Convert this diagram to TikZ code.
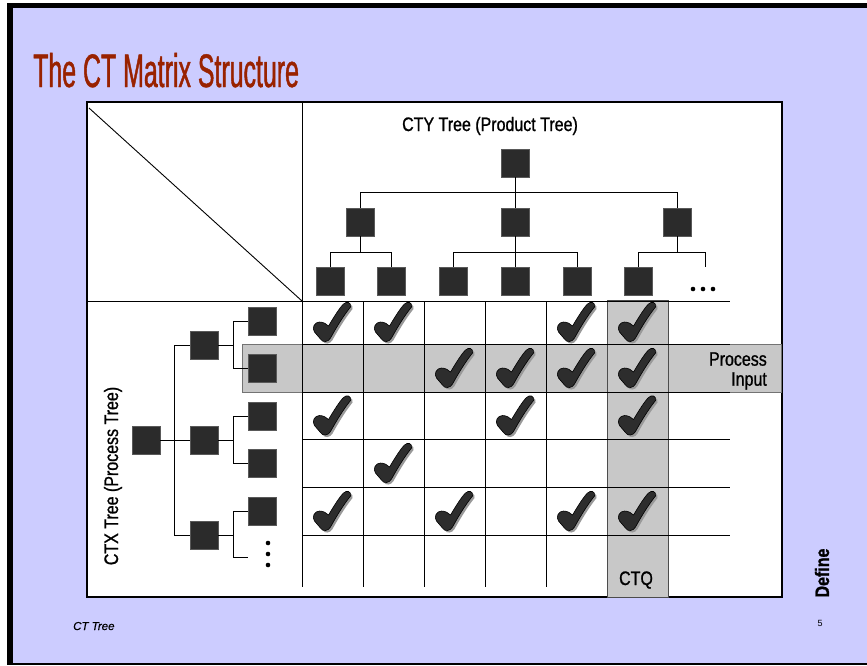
\documentclass[tikz,border=0pt]{standalone}
\usepackage{fontspec}
\setmainfont{Liberation Sans}
\newfontfamily\titlefont[FakeStretch=0.53,FakeBold=0.9]{Liberation Sans}
\newfontfamily\labelfont[FakeStretch=0.82,FakeBold=1.0]{Liberation Sans}
\newfontfamily\footfont[FakeBold=0.5]{Liberation Sans}
\definecolor{lav}{RGB}{204,204,255}
\definecolor{titlered}{RGB}{153,34,0}
\definecolor{hl}{RGB}{200,200,200}
\definecolor{sqfill}{RGB}{43,43,43}
\definecolor{chkfill}{RGB}{45,45,45}

\begin{document}
\begin{tikzpicture}[x=1pt,y=-1pt,
  box/.style={draw=black!65, fill=sqfill, line width=0.8pt, minimum size=28pt, inner sep=0pt},
  conn/.style={black, line width=1pt},
  gridline/.style={black, line width=0.9pt},
  dot/.style={circle, fill=black, inner sep=0pt, minimum size=4.6pt},
  lbl/.style={inner sep=0pt, font=\labelfont\fontsize{19.5}{20}\selectfont},
  chk/.pic={
    \fill[black!40, shift={(2,2)}]
      (-4,4) .. controls (2,-6) and (7,-14) .. (11,-18)
      .. controls (14,-21) and (19,-20) .. (18,-15)
      .. controls (10,-5) and (3,7) .. (-2,16)
      .. controls (-4,20) and (-10,21) .. (-12,17)
      .. controls (-14,14) and (-16,13) .. (-18,10)
      .. controls (-21,6) and (-18,0) .. (-13,0)
      .. controls (-9,0) and (-6,2) .. (-4,4) -- cycle;
    \filldraw[fill=chkfill, draw=black, line width=0.6pt]
      (-4,4) .. controls (2,-6) and (7,-14) .. (11,-18)
      .. controls (14,-21) and (19,-20) .. (18,-15)
      .. controls (10,-5) and (3,7) .. (-2,16)
      .. controls (-4,20) and (-10,21) .. (-12,17)
      .. controls (-14,14) and (-16,13) .. (-18,10)
      .. controls (-21,6) and (-18,0) .. (-13,0)
      .. controls (-9,0) and (-6,2) .. (-4,4) -- cycle;
  }]
\useasboundingbox (0,0) rectangle (867,665);

% slide background and frame
\fill[white] (0,0) rectangle (867,665);
\fill[black] (7,3) rectangle (867,665);
\fill[lav] (13,8) rectangle (867,663);

% title
\node[anchor=base west, inner sep=0pt, text=titlered,
      font=\titlefont\fontsize{47}{50}\selectfont] (title) at (33,87) {The CT Matrix Structure};

% matrix panel
\draw[fill=white, line width=1.1pt] (87,102) rectangle (782,597);

% highlighted process input row and CTQ column
\filldraw[fill=hl, draw=black!55, line width=0.9pt] (242,344) rectangle (781,392);
\filldraw[fill=hl, draw=black!70, line width=0.9pt] (607,300) rectangle (668,597);

% corner diagonal and grid
\draw[gridline] (89,108) -- (302,301);
\draw[gridline] (87,301) -- (730,301);
\draw[gridline] (302,102) -- (302,587);
\foreach \x in {363,424,485,546} \draw[gridline] (\x,301) -- (\x,587);
\foreach \y in {344,392,439,487,535} \draw[gridline] (302,\y) -- (730,\y);

% CTY tree (product tree)
\node[lbl, anchor=base] (ctyl) at (490,131) {CTY Tree (Product Tree)};
\node[box] (t0) at (515,163) {};
\node[box] (t1a) at (360,222) {};
\node[box] (t1b) at (515,222) {};
\node[box] (t1c) at (677,222) {};
\node[box] (t2a) at (330,281) {};
\node[box] (t2b) at (391,281) {};
\node[box] (t2c) at (453,281) {};
\node[box] (t2d) at (515,281) {};
\node[box] (t2e) at (577,281) {};
\node[box] (t2f) at (638,281) {};
\node[dot] (td1) at (693,289) {};
\node[dot] (td2) at (703,289) {};
\node[dot] (td3) at (713,289) {};
\coordinate (tbar) at (515,192);
\coordinate (lbar) at (0,252);
\coordinate (tstub) at (705,267);
\draw[conn] (t0.south) -- (t1b.north);
\draw[conn] (t1a.north) -- (t1a.north |- tbar) -- (t1c.north |- tbar) -- (t1c.north);
\draw[conn] (t1a.south) -- (t1a.south |- lbar);
\draw[conn] (t2a.north) -- (t2a.north |- lbar) -- (t2b.north |- lbar) -- (t2b.north);
\draw[conn] (t1b.south) -- (t2d.north);
\draw[conn] (t2c.north) -- (t2c.north |- lbar) -- (t2e.north |- lbar) -- (t2e.north);
\draw[conn] (t1c.south) -- (t1c.south |- lbar);
\draw[conn] (t2f.north) -- (t2f.north |- lbar) -- (tstub |- lbar) -- (tstub);

% CTX tree (process tree)
\node[lbl, rotate=90, anchor=base] (ctxl) at (118,476) {CTX Tree (Process Tree)};
\node[box] (c0) at (146,440) {};
\node[box] (c1a) at (204,345) {};
\node[box] (c1b) at (204,440) {};
\node[box] (c1c) at (204,535) {};
\node[box] (c2a) at (262,321) {};
\node[box] (c2b) at (262,368) {};
\node[box] (c2c) at (262,416) {};
\node[box] (c2d) at (262,463) {};
\node[box] (c2e) at (262,511) {};
\node[dot] (cd1) at (268,543) {};
\node[dot] (cd2) at (268,554) {};
\node[dot] (cd3) at (268,565) {};
\coordinate (vbar) at (174,0);
\coordinate (wbar) at (233,0);
\coordinate (cstub) at (248,557);
\draw[conn] (c0.east) -- (c1b.west);
\draw[conn] (c1a.west) -- (c1a.west -| vbar) -- (c1c.west -| vbar) -- (c1c.west);
\draw[conn] (c1a.east) -- (c1a.east -| wbar);
\draw[conn] (c2a.west) -- (c2a.west -| wbar) -- (c2b.west -| wbar) -- (c2b.west);
\draw[conn] (c1b.east) -- (c1b.east -| wbar);
\draw[conn] (c2c.west) -- (c2c.west -| wbar) -- (c2d.west -| wbar) -- (c2d.west);
\draw[conn] (c1c.east) -- (c1c.east -| wbar);
\draw[conn] (c2e.west) -- (c2e.west -| wbar) -- (cstub -| wbar) -- (cstub);

% check marks
\foreach \x/\y in {332.5/322, 393.5/322, 576.5/322, 637.5/322,
                   454.5/368, 515.5/368, 576.5/368, 637.5/368,
                   332.5/415.5, 515.5/415.5, 637.5/415.5,
                   393.5/463,
                   332.5/511, 454.5/511, 576.5/511, 637.5/511}
  \pic at (\x,\y) {chk};

% labels
\node[lbl, align=right, anchor=east] (pin) at (767,371) {Process\\Input};
\node[lbl, anchor=base] (ctq) at (636,585) {CTQ};
\node[inner sep=0pt, rotate=90, font=\labelfont\bfseries\fontsize{19.5}{20}\selectfont] (def) at (822,573) {Define};
\node[inner sep=0pt, font=\fontsize{9}{10}\selectfont] (pnum) at (820,623) {5};
\node[inner sep=0pt, anchor=base west, font=\footfont\itshape\fontsize{11.5}{12}\selectfont] (foot) at (73,630) {CT Tree};
\end{tikzpicture}
\end{document}
